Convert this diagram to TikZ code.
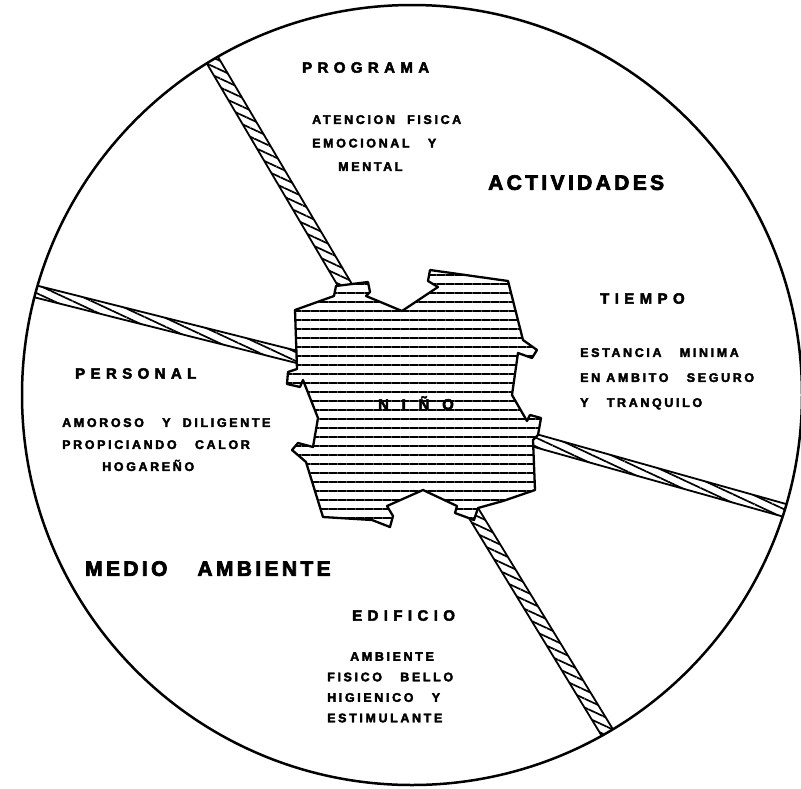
\documentclass[tikz,border=0pt]{standalone}
\usepackage{fontspec}
\setmainfont{Liberation Sans}
\newfontfamily\headfont[LetterSpace=36,FakeBold=3]{Liberation Sans}
\newfontfamily\bodyfont[LetterSpace=21,FakeBold=3]{Liberation Sans}
\newfontfamily\bigfont[LetterSpace=16,FakeBold=3.5]{Liberation Sans}
\newfontfamily\ninofont[LetterSpace=85,FakeBold=3.5]{Liberation Sans}
\usetikzlibrary{calc,patterns.meta}
\tikzset{
  heading/.style={anchor=north west,inner sep=0pt,font=\headfont\bfseries\fontsize{15}{18}\selectfont},
  bodytext/.style={anchor=north west,inner sep=0pt,align=left,font=\bodyfont\bfseries\fontsize{12.5}{#1}\selectfont},
  bodytext/.default=23,
  bigtext/.style={anchor=north west,inner sep=0pt,font=\bigfont\bfseries\fontsize{21}{25}\selectfont},
  barstyle/.style={draw=black,line width=1.8pt,fill=white,
    postaction={pattern={Lines[angle=-25,distance=8pt,line width=1.7pt]}}},
  ninoshape/.style={draw=black,line width=2.3pt,line join=round,fill=white,
    postaction={pattern={Lines[angle=0,distance=9pt,line width=2.3pt]}}},
  rim/.style={draw=black,line width=2.5pt}
}
\newcommand\hatchbar[3]{%
  \path[barstyle] ($(#1)!#3!90:(#2)$) -- ($(#2)!#3!-90:(#1)$) --
    ($(#2)!#3!90:(#1)$) -- ($(#1)!#3!-90:(#2)$) -- cycle;}
\begin{document}
\begin{tikzpicture}[x=1pt,y=-1pt]
\useasboundingbox[fill=white] (0,0) rectangle (801,788);
\coordinate (cc) at (412,395);
% bar end points
\coordinate (b1o) at (207,51);  \coordinate (b1i) at (375,336);
\coordinate (b2o) at (26,289);  \coordinate (b2i) at (337,367);
\coordinate (b3o) at (812,518); \coordinate (b3i) at (494,429);
\coordinate (b4o) at (621,755); \coordinate (b4i) at (443,463);
\begin{scope}
  \clip (cc) circle (390);
  \hatchbar{b1o}{b1i}{6.5pt}
  \hatchbar{b2o}{b2i}{6pt}
  \hatchbar{b3o}{b3i}{6.5pt}
  \hatchbar{b4o}{b4i}{6.5pt}
\end{scope}
\draw[rim] (cc) circle (390);
% central shape
\path[ninoshape] (295,310) -- (334,296) -- (336,286) -- (368,282) -- (370,292)
  -- (366,296) -- (402,311) -- (438,287) -- (428,281) -- (430,270) -- (508,281)
  -- (523,340) -- (537,350) -- (532,358) -- (518,353) -- (512,395) -- (527,421)
  -- (530,415) -- (541,418) -- (538,435) -- (533,440) -- (535,490) -- (503,501)
  -- (478,508) -- (474,520) -- (455,513) -- (457,506) -- (423,490) -- (387,506)
  -- (393,516) -- (390,527) -- (372,520) -- (323,517) -- (306,462) -- (292,450)
  -- (298,443) -- (313,447) -- (318,418) -- (303,380) -- (300,387) -- (287,384)
  -- (288,372) -- (297,369) -- cycle;
\node[inner sep=0pt,font=\ninofont\bfseries\fontsize{15}{17}\selectfont] (nino) at (416,403) {NIÑO};
% texts
\node[heading] (programa) at (302,62) {PROGRAMA};
\node[bodytext=23.5] (programatxt) at (312,115) {ATENCION\ \ FISICA\\EMOCIONAL\ \ \ Y\\\hspace*{26pt}MENTAL};
\node[bigtext] (actividades) at (488,175) {ACTIVIDADES};
\node[heading] (personal) at (75,368) {PERSONAL};
\node[bodytext=22] (personaltxt) at (62,418) {AMOROSO\ \ \ Y\ \ DILIGENTE\\PROPICIANDO\ \ \ CALOR\\\hspace*{40pt}HOGAREÑO};
\node[heading] (tiempo) at (600,293) {TIEMPO};
\node[bodytext=25] (tiempotxt) at (580,348) {ESTANCIA\ \ \ MINIMA\\EN\ AMBITO\ \ \ SEGURO\\Y\ \ \ TRANQUILO};
\node[bigtext] (medio) at (85,561) {MEDIO\hspace{30pt}AMBIENTE};
\node[heading] (edificio) at (352,610) {EDIFICIO};
\node[bodytext=20.5] (edificiotxt) at (327,652) {\hspace*{23pt}AMBIENTE\\FISICO\ \ \ BELLO\\HIGIENICO\ \ \ Y\\ESTIMULANTE};
\end{tikzpicture}
\end{document}
